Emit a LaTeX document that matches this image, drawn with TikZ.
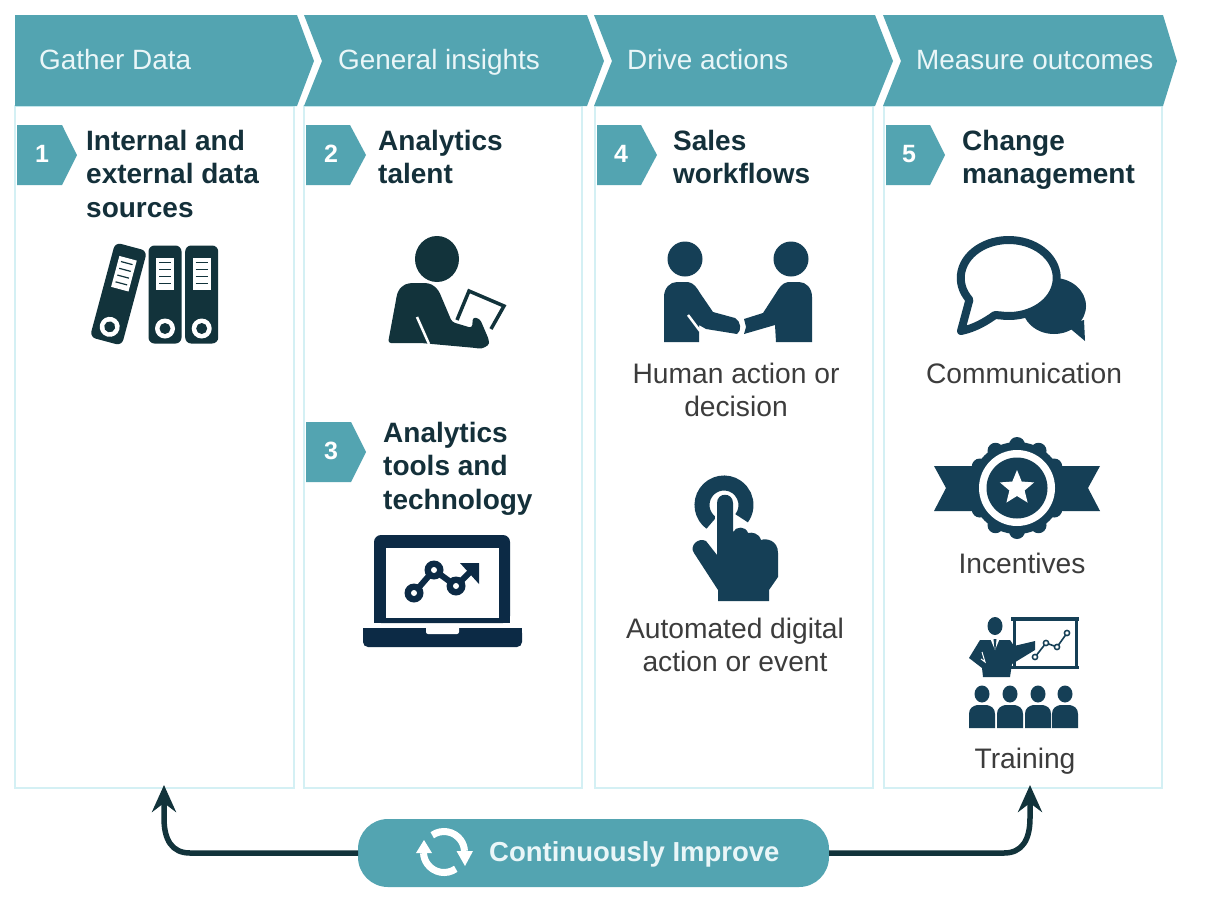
\documentclass[tikz,border=0pt]{standalone}
\usepackage{fontspec}
\setmainfont{Liberation Sans}
\usetikzlibrary{arrows.meta}
\definecolor{tealc}{HTML}{53A4B1}
\definecolor{edgec}{HTML}{D4F0F4}
\definecolor{darkc}{HTML}{12333B}
\definecolor{navyc}{HTML}{153F56}
\definecolor{lapc}{HTML}{0C2A45}
\definecolor{headc}{HTML}{14303A}
\definecolor{greyc}{HTML}{3C3C3C}
\definecolor{paleh}{HTML}{EAF6F8}
\tikzset{
  x=1pt,y=-1pt,
  band/.style={fill=tealc,draw=none},
  panel/.style={draw=edgec,line width=1.5pt,fill=white,rectangle,inner sep=0pt,outer sep=0pt},
  headtxt/.style={text=paleh,font=\fontsize{27.9}{33}\selectfont,anchor=base west,inner sep=0pt},
  numtxt/.style={text=white,font=\bfseries\fontsize{25}{30}\selectfont,inner sep=0pt},
  title/.style={text=headc,font=\bfseries\fontsize{28}{33.5}\selectfont,anchor=north west,inner sep=0pt,align=left},
  caption/.style={text=greyc,font=\fontsize{28.2}{33.5}\selectfont,anchor=north,inner sep=0pt,align=center},
  link/.style={draw=darkc,line width=5.5pt,-{Stealth[length=27pt,width=24pt,inset=9pt]}},
}
\newcommand{\binderart}{%
  \fill[darkc,rounded corners=6pt] (-16.5,-49) rectangle (16.5,49);
  \fill[white] (-9,-37) rectangle (9,-5);
  \foreach \yy in {-32,-25,-18,-11} \draw[darkc,line width=1.2pt] (-6,\yy) -- (6,\yy);
  \fill[white] (0,34) circle[radius=10];
  \fill[darkc] (0,34) circle[radius=5.5];
}
\begin{document}
\begin{tikzpicture}
\useasboundingbox (0,0) rectangle (1209,902);
\fill[white] (0,0) rectangle (1209,902);

% panels
\node[panel,minimum width=279pt,minimum height=682pt] (p1) at (154.5,447) {};
\node[panel,minimum width=278pt,minimum height=682pt] (p2) at (443,447) {};
\node[panel,minimum width=278pt,minimum height=682pt] (p3) at (734,447) {};
\node[panel,minimum width=278pt,minimum height=682pt] (p4) at (1023,447) {};

% header band
\fill[band] (15,15) -- (297,15) -- (314,61) -- (297,106) -- (15,106) -- cycle;
\fill[band] (304,15) -- (587,15) -- (604,61) -- (587,106) -- (304,106) -- (322,61) -- cycle;
\fill[band] (594,15) -- (875,15) -- (893,61) -- (875,106) -- (594,106) -- (612,61) -- cycle;
\fill[band] (883,15) -- (1163,15) -- (1177,61) -- (1163,106) -- (883,106) -- (901,61) -- cycle;
\node[headtxt] (h1) at (39,69) {Gather Data};
\node[headtxt] (h2) at (338,69) {General insights};
\node[headtxt] (h3) at (627,69) {Drive actions};
\node[headtxt] (h4) at (916,69) {Measure outcomes};

% badges
\fill[band] (17,125) -- (62,125) -- (77,155) -- (62,185) -- (17,185) -- cycle;
\fill[band] (306,125) -- (350,125) -- (366,155) -- (350,185) -- (306,185) -- cycle;
\fill[band] (306,422) -- (351,422) -- (366,452) -- (351,482) -- (306,482) -- cycle;
\fill[band] (597,125) -- (641,125) -- (657,155) -- (641,185) -- (597,185) -- cycle;
\fill[band] (886,125) -- (930,125) -- (945,155) -- (930,185) -- (886,185) -- cycle;
\node[numtxt] (n1) at (42,154) {1};
\node[numtxt] (n2) at (331,154) {2};
\node[numtxt] (n3) at (331,451) {3};
\node[numtxt] (n4) at (621,154) {4};
\node[numtxt] (n5) at (909,154) {5};

% titles
\node[title] (t1) at (86,126.5) {\strut Internal and\\\strut external data\\\strut sources};
\node[title] (t2) at (378,126.5) {\strut Analytics\\\strut talent};
\node[title] (t3) at (383,418.5) {\strut Analytics\\\strut tools and\\\strut technology};
\node[title] (t4) at (673,126.5) {\strut Sales\\\strut workflows};
\node[title] (t5) at (962,126.5) {\strut Change\\\strut management};

% captions
\node[caption] (c1) at (736,359.5) {\strut Human action or\\\strut decision};
\node[caption] (c2) at (735,614.5) {\strut Automated digital\\\strut action or event};
\node[caption] (c3) at (1024,359.5) {\strut Communication};
\node[caption] (c4) at (1022,549.5) {\strut Incentives};
\node[caption] (c5) at (1025,744.5) {\strut Training};

% binders
\begin{scope}[shift={(118.5,294)},rotate=-15]\binderart\end{scope}
\begin{scope}[shift={(165,294.5)}]\binderart\end{scope}
\begin{scope}[shift={(201.7,294.5)}]\binderart\end{scope}

% analyst
\fill[darkc] (437,259) ellipse[x radius=22,y radius=23];
\draw[darkc,line width=3.5pt] (457,320) -- (469,291) -- (504,306) -- (491,329);
\fill[darkc,rounded corners=3pt] (388,343) -- (396,300) .. controls (398,288) and (404,284) .. (412,283) -- (425,283)
  .. controls (433,284) and (438,289) .. (441,296) -- (452,322) -- (472,328) -- (473,317) -- (480,319) -- (489,340)
  .. controls (489,346) and (482,349) .. (476,348) -- (421,343) -- cycle;
\draw[white,line width=2.5pt] (417,317) -- (429,344);

% laptop
\fill[lapc,rounded corners=7pt] (374,535) -- (510,535) -- (510,623) -- (374,623) -- cycle;
\fill[lapc] (374,610) rectangle (510,623);
\fill[white] (386,548) rectangle (499,618);
\fill[lapc,rounded corners=5pt] (363,628) -- (522,628) -- (522,647) -- (363,647) -- cycle;
\fill[lapc] (363,628) rectangle (522,636);
\fill[white,rounded corners=2pt] (426,626) -- (459,626) -- (459,634) -- (426,634) -- cycle;
\draw[lapc,line width=6pt] (414,593) -- (434,570) -- (456,586) -- (474,568);
\fill[lapc] (460,563) -- (479,563) -- (479,584) -- cycle;
\foreach \px/\py in {414/593,434/570,456/586}{
  \fill[lapc] (\px,\py) circle[radius=9.5];
  \fill[white] (\px,\py) circle[radius=3];
}

% handshake
\fill[navyc] (685,259) circle[radius=17.5];
\fill[navyc] (791,259) circle[radius=17.5];
\fill[navyc] (664,342) -- (664,297) .. controls (664,288) and (670,282) .. (677,282) -- (688,282)
  .. controls (694,283) and (697,288) .. (700,293) -- (713,312) -- (735,318)
  .. controls (741,321) and (742,331) .. (737,334) -- (706,329) -- (699,325) -- (699,342) -- cycle;
\draw[white,line width=2.5pt] (688,315) -- (700,331);
\fill[navyc] (812,342) -- (812,297) .. controls (812,288) and (806,282) .. (799,282) -- (788,282)
  .. controls (782,283) and (779,288) .. (776,293) -- (763,313) -- (744,319) -- (746,327) -- (744,334)
  -- (775,325) -- (776,342) -- cycle;

% touch
\draw[navyc,line width=15pt] (724,505) ++(125:22) arc[start angle=125,end angle=397,radius=22];
\draw[white,line width=4pt,fill=navyc,line join=round] (717,503) .. controls (717,492) and (733,492) .. (733,503) -- (733,532)
  .. controls (736,526) and (746,526) .. (748,533) .. controls (752,532) and (759,533) .. (761,540)
  .. controls (766,538) and (778,540) .. (778,553) -- (778,577) -- (769,590) -- (769,601) -- (718,601) -- (718,590)
  -- (694,553) .. controls (689,546) and (698,537) .. (706,541) -- (717,555) -- cycle;
\fill[navyc] (717,503) .. controls (717,492) and (733,492) .. (733,503) -- (733,532)
  .. controls (736,526) and (746,526) .. (748,533) .. controls (752,532) and (759,533) .. (761,540)
  .. controls (766,538) and (778,540) .. (778,553) -- (778,577) -- (769,590) -- (769,601) -- (718,601) -- (718,590)
  -- (694,553) .. controls (689,546) and (698,537) .. (706,541) -- (717,555) -- cycle;

% speech bubbles
\fill[navyc] (1054,306) ellipse[x radius=32,y radius=28];
\fill[navyc] (1066,325) -- (1084,320) -- (1085,341) -- cycle;
\draw[navyc,line width=8pt,fill=white,line join=round] (1007,278) ++(100:38)
  arc[start angle=100,end angle=-215,x radius=48,y radius=38]
  -- (961,331) .. controls (975,328) and (985,322) .. (995,315) -- cycle;

% medal
\fill[navyc] (934,466) -- (1100,466) -- (1088,488) -- (1100,511) -- (934,511) -- (946,488) -- cycle;
\fill[navyc] (1017,488) circle[radius=46];
\foreach \aa in {0,30,...,330} \fill[navyc] (1017,488) ++(\aa:43) circle[radius=8];
\fill[white] (1017,488) circle[radius=38];
\fill[navyc] (1017,488) circle[radius=30.5];
\fill[white] (1017,488) ++(-90:18) -- ([shift={(1017,488)}]-54:8) -- ([shift={(1017,488)}]-18:18) -- ([shift={(1017,488)}]18:8)
  -- ([shift={(1017,488)}]54:18) -- ([shift={(1017,488)}]90:8) -- ([shift={(1017,488)}]126:18) -- ([shift={(1017,488)}]162:8)
  -- ([shift={(1017,488)}]198:18) -- ([shift={(1017,488)}]234:8) -- cycle;

% training
\fill[navyc] (1011,617) rectangle (1079,620.5);
\fill[navyc] (1011,665.5) rectangle (1079,669);
\fill[navyc] (1013,618) rectangle (1016,667);
\fill[navyc] (1075,618) rectangle (1078,667);
\draw[navyc,line width=1.6pt] (1035,657) -- (1046,643) -- (1057,647) -- (1067,633);
\foreach \px/\py in {1035/657,1046/643,1057/647,1067/633} \draw[navyc,line width=1.5pt,fill=white] (\px,\py) circle[radius=2.6];
\fill[navyc] (995,626) ellipse[x radius=7.5,y radius=9];
\fill[navyc] (980,640) -- (1010,640) -- (1014,646) -- (1031,642) -- (1035,641) -- (1035,650) -- (1012,664) -- (1010,677) -- (983,677) -- (982,668) -- (969,658) -- cycle;
\fill[white] (990,638) -- (1000,638) -- (995,650) -- cycle;
\fill[navyc] (993.5,639) -- (996.5,639) -- (995.5,649) -- (994.5,649) -- cycle;
\draw[white,line width=1pt] (982,652) -- (985,662) -- (981,659);
\foreach \px in {982,1010,1038,1065}{
  \fill[navyc] (\px,694) ellipse[x radius=7.5,y radius=8.5];
  \fill[navyc] ({\px-13},728) -- ({\px-13},714) .. controls ({\px-13},708) and ({\px-9},706) .. ({\px-5},705)
    -- ({\px+5},705) .. controls ({\px+9},706) and ({\px+13},708) .. ({\px+13},714) -- ({\px+13},728) -- cycle;
}

% bottom pill and links
\coordinate (tipl) at (164,785);
\coordinate (tipr) at (1030,785);
\node[fill=tealc,rounded corners=30pt,minimum width=471pt,minimum height=68pt,inner sep=0pt,outer sep=0pt] (pill) at (593.5,853) {};
\draw[link] (pill.west) -- (190,853) .. controls (172,853) and (164,840) .. (164,818) -- (tipl);
\draw[link] (pill.east) -- (1004,853) .. controls (1022,853) and (1030,840) .. (1030,818) -- (tipr);
\draw[white,line width=7pt] (444,852) ++(-125:20.5) arc[start angle=-125,end angle=-3,radius=20.5];
\draw[white,line width=7pt] (444,852) ++(55:20.5) arc[start angle=55,end angle=177,radius=20.5];
\fill[white] (456.5,851) -- (473,851) -- (465,866) -- cycle;
\fill[white] (416,853) -- (432,853) -- (424,840) -- cycle;
\node[text=paleh,font=\bfseries\fontsize{27.5}{33}\selectfont,anchor=base west,inner sep=0pt] (pt) at (489,861) {Continuously Improve};
\end{tikzpicture}
\end{document}
